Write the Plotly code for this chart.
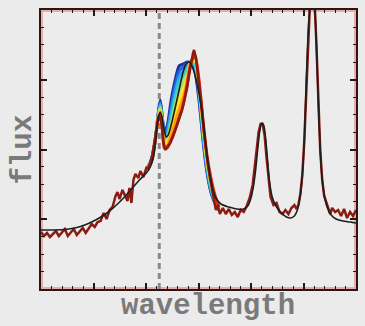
import plotly.graph_objects as go

# ---- data (x: wavelength units, y: flux units) ----
MODEL_X = [0, 14, 24, 34, 44, 53, 62, 69, 77, 84, 92, 99, 106, 110, 113, 115, 117, 119, 120, 122, 124, 126,
           128, 131, 135, 139, 143, 146, 149, 152, 155, 158, 161, 164, 167, 170, 173, 176, 181, 189, 197, 204,
           208, 211, 214, 216, 218, 220, 222, 224, 226, 228, 230, 233, 237, 242, 247, 251, 255, 258, 261, 263,
           265, 267, 269, 271, 273, 275, 277, 279, 281, 283, 285, 288, 292, 297, 304, 311, 317]
MODEL_Y = [59, 59, 59.5, 61, 64, 68, 73, 78, 85, 92, 101, 109, 116, 122, 131, 144, 164, 175, 177, 171, 159, 152,
           154, 164, 181, 199, 217, 225, 227, 223, 214, 201, 184, 161, 134, 114, 99, 91, 85, 82, 80, 80,
           83, 90, 104, 119, 139, 157, 166, 164, 151, 129, 107, 91, 82, 76, 72, 71, 73, 79, 94, 114, 149,
           209, 259, 289, 319, 294, 249, 189, 139, 109, 94, 82, 74, 70, 68, 67, 66]

OBS_X = [0, 3, 6, 9, 12, 15, 18, 21, 24, 27, 30, 33, 36, 39, 42, 45, 48, 51, 54, 57,
         60, 63, 66, 69, 72, 75, 77, 79, 82, 85, 87, 89, 91, 93, 95, 98, 100, 103, 106, 108,
         110, 112, 114, 116, 118, 119, 121, 123, 125, 127, 130, 133, 136, 139, 142, 145, 147, 149, 151, 153,
         154, 156, 158, 160, 162, 164, 166, 168, 170, 172, 174, 176, 178, 180, 183, 186, 189, 192, 195, 198,
         201, 204, 207, 210, 213, 215, 217, 219, 221, 223, 225, 227, 229, 231, 234, 237, 240, 243, 246, 249,
         252, 255, 257, 259, 261, 263, 265, 267, 269, 271, 273, 275, 277, 279, 281, 283, 285, 288, 291, 293,
         296, 299, 302, 305, 308, 311, 314, 317]
OBS_Y = [57, 53, 56, 52, 55, 58, 53, 56, 60, 53, 56, 60, 54, 57, 61, 56, 60, 65, 62, 67,
         68, 76, 70, 79, 82, 93, 97, 90, 99, 92, 88, 101, 86, 109, 115, 111, 118, 112, 121, 120,
         126, 134, 146, 161, 171, 173, 167, 149, 139, 142, 146, 153, 161, 171, 179, 192, 201, 214, 227, 236,
         239, 231, 214, 199, 179, 157, 139, 124, 111, 101, 92, 79, 84, 75, 81, 75, 80, 74, 77, 72,
         79, 77, 83, 91, 104, 119, 139, 157, 165, 165, 154, 131, 109, 92, 84, 86, 77, 75, 79, 75,
         81, 84, 80, 84, 95, 114, 149, 209, 259, 294, 319, 294, 249, 189, 139, 109, 93, 84, 75, 81,
         77, 79, 73, 80, 71, 77, 73, 79]

EPOCH_X = [107, 111, 115, 118, 120, 122, 124, 127, 131, 135, 139, 143, 147, 151, 155, 159, 163, 167, 171, 175, 179]
EPOCHS = [
    [121, 129, 149, 176, 189, 173, 157, 163, 189, 209, 223, 225, 227, 225, 217, 189, 149, 117, 97, 86, 79],
    [121, 129, 149, 175, 187, 172, 155, 160, 183, 204, 218, 222, 226, 227, 219, 193, 152, 119, 98, 86, 79],
    [121, 128, 149, 174, 185, 170, 152, 156, 177, 197, 212, 218, 223, 228, 222, 197, 155, 122, 100, 87, 79],
    [121, 128, 149, 173, 183, 169, 150, 152, 171, 190, 205, 213, 219, 228, 225, 200, 159, 125, 102, 88, 80],
    [121, 128, 149, 172, 181, 168, 148, 149, 165, 183, 197, 206, 214, 228, 228, 203, 162, 127, 104, 89, 80],
    [121, 127, 149, 172, 179, 167, 146, 146, 160, 175, 188, 198, 210, 227, 230, 205, 165, 129, 106, 91, 81],
    [121, 127, 149, 171, 177, 165, 143, 143, 154, 167, 179, 191, 207, 227, 232, 207, 167, 132, 109, 93, 82],
    [121, 127, 149, 171, 175, 164, 141, 141, 149, 159, 171, 184, 204, 227, 234, 209, 169, 134, 111, 94, 82],
]
EPOCH_COLORS = ["#1c2c9c", "#1f63d8", "#2aa6ea", "#3fd2c4", "#b4e05a", "#ffe41a", "#ff9a10", "#e3261b"]
REF_WAVE = 119

fig = go.Figure()

fig.add_trace(go.Scatter(x=[REF_WAVE, REF_WAVE], y=[0, 279], mode="lines",
                         line=dict(color="#8a8a8a", width=3, dash="6px,4px"), hoverinfo="skip"))

for ys, c in zip(EPOCHS, EPOCH_COLORS):
    fig.add_trace(go.Scatter(x=EPOCH_X, y=ys, mode="lines",
                             line=dict(color=c, width=3, shape="spline", smoothing=0.6)))

fig.add_trace(go.Scatter(x=OBS_X, y=OBS_Y, mode="lines", line=dict(color="#8b1c12", width=2.5)))
fig.add_trace(go.Scatter(x=MODEL_X, y=MODEL_Y, mode="lines",
                         line=dict(color="#1e1e1e", width=1.6, shape="spline", smoothing=0.8)))

axis_common = dict(showgrid=False, zeroline=False, showticklabels=False, ticks="inside",
                   mirror="allticks", showline=True, linecolor="#2a1414", linewidth=2,
                   tickcolor="#1a1a1a", ticklen=6, tickwidth=1.5)

fig.update_xaxes(range=[0, 317], tick0=0, dtick=317 / 6,
                 minor=dict(ticks="inside", dtick=317 / 30, ticklen=3, tickcolor="#1a1a1a", tickwidth=1.2),
                 **axis_common)
fig.update_yaxes(range=[0, 279], tick0=0, dtick=279 / 4,
                 minor=dict(ticks="inside", dtick=279 / 16, ticklen=3, tickcolor="#1a1a1a", tickwidth=1.2),
                 **axis_common)

fig.add_shape(type="rect", xref="paper", yref="paper", x0=0, y0=0, x1=1, y1=1,
              line=dict(color="rgba(230,120,120,0.55)", width=4), layer="below")

fig.update_layout(
    width=365, height=326, showlegend=False,
    margin=dict(l=41, r=7, t=10, b=37),
    paper_bgcolor="#ebebeb", plot_bgcolor="#ececec",
    annotations=[
        dict(text="<b>wavelength</b>", xref="paper", yref="paper", x=0.53, y=-0.064,
             xanchor="center", yanchor="middle", showarrow=False,
             font=dict(family="Liberation Mono", size=29, color="#7a7a7a")),
        dict(text="<b>flux</b>", xref="paper", yref="paper", x=-0.057, y=0.5,
             xanchor="center", yanchor="middle", showarrow=False, textangle=-90,
             font=dict(family="Liberation Mono", size=29, color="#7a7a7a")),
    ],
)

fig.write_html("out.html")
